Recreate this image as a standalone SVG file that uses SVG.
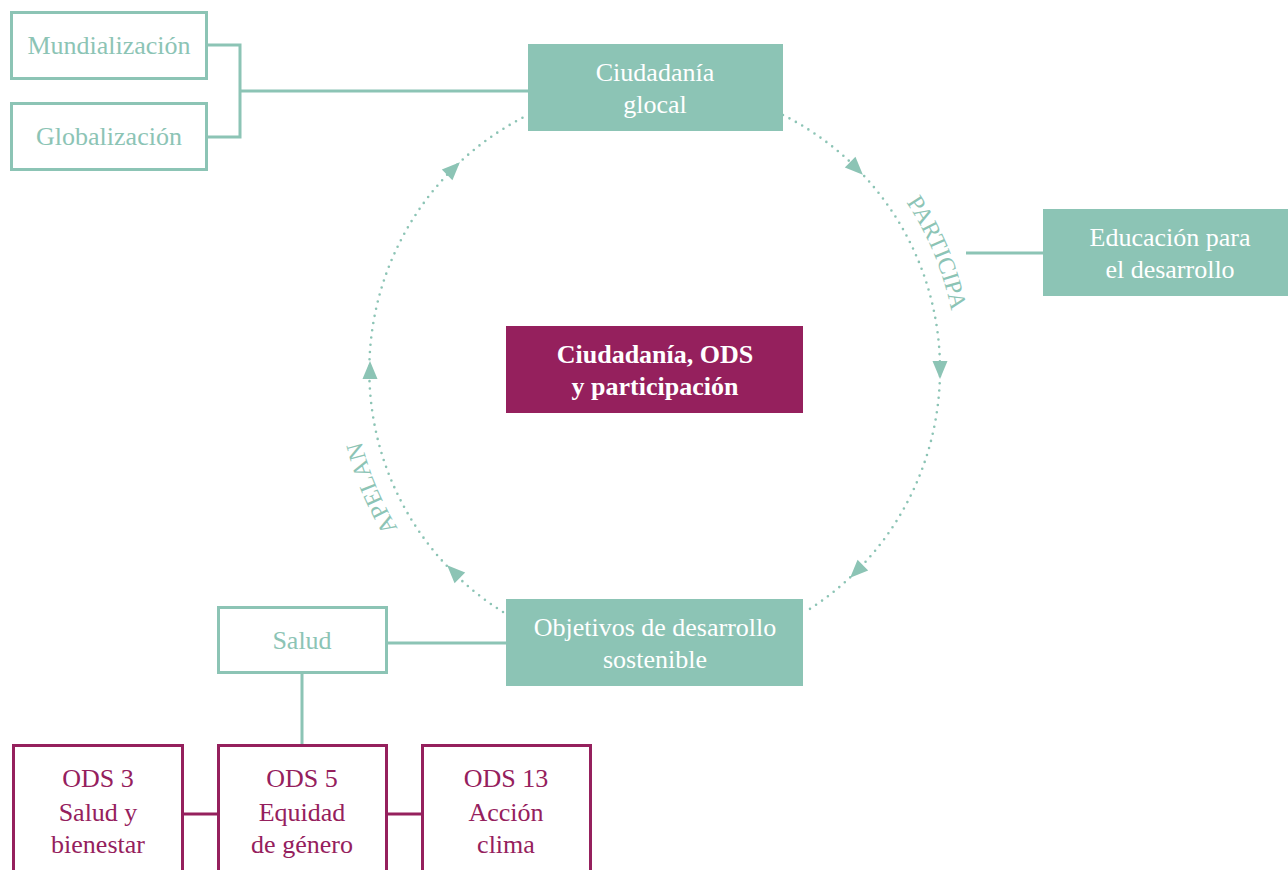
<svg xmlns="http://www.w3.org/2000/svg" xmlns:xlink="http://www.w3.org/1999/xlink" width="1288" height="870" viewBox="0 0 1288 870">
<style>
.t{font-family:"Liberation Serif",serif;font-size:26px;text-anchor:middle}
.w{fill:#ffffff}
.g{fill:#8cc4b5}
.p{fill:#95205d}
.b{font-weight:bold}
.fillT{fill:#8cc4b5}
.fillP{fill:#95205d}
.outT{fill:#ffffff;stroke:#8cc4b5;stroke-width:3}
.outP{fill:#ffffff;stroke:#95205d;stroke-width:3}
.lnT{stroke:#8cc4b5;stroke-width:3;fill:none}
.lnP{stroke:#95205d;stroke-width:3;fill:none}
.dot{stroke:#8cc4b5;stroke-width:2.6;fill:none;stroke-dasharray:0 7.3;stroke-linecap:round}
.arr{fill:#8cc4b5}
.lbl{font-family:"Liberation Serif",serif;font-size:24px;fill:#8cc4b5;text-anchor:middle}
</style>
<defs>
<path id="ring" d="M 957 370 A 302 302 0 1 1 353 370 A 302 302 0 1 1 957 370"/>
<polygon id="ah" points="9,0 -9,-7.5 -9,7.5"/>
</defs>
<g id="connectors">
<path class="lnT" d="M207 45 H240 V137 H207 M240 91 H528"/>
<path class="lnT" d="M966 253 H1043"/>
<path class="lnT" d="M387 643 H506 M302 673 V745"/>
<path class="lnP" d="M183 814 H218 M387 814 H422"/>
<path class="dot" d="M 783 115 A 285 285 0 0 1 805 612"/>
<path class="dot" d="M 503 612 A 285 285 0 0 1 528 115"/>
<use href="#ah" class="arr" transform="translate(856.5,168.5) rotate(45)"/>
<use href="#ah" class="arr" transform="translate(940,370) rotate(90)"/>
<use href="#ah" class="arr" transform="translate(856.5,571.5) rotate(135)"/>
<use href="#ah" class="arr" transform="translate(453.5,571.5) rotate(225)"/>
<use href="#ah" class="arr" transform="translate(370,370) rotate(270)"/>
<use href="#ah" class="arr" transform="translate(453.5,168.5) rotate(315)"/>
<text class="lbl"><textPath href="#ring" startOffset="1778">PARTICIPA</textPath></text>
<text class="lbl"><textPath href="#ring" startOffset="829">APELAN</textPath></text>
</g>
<g id="mundializacion">
<rect class="outT" x="11.5" y="12.5" width="195" height="66"/>
<text class="t g" x="109" y="54">Mundialización</text>
</g>
<g id="globalizacion">
<rect class="outT" x="11.5" y="103.5" width="195" height="66"/>
<text class="t g" x="109" y="145">Globalización</text>
</g>
<g id="ciudadania-glocal">
<rect class="fillT" x="528" y="44" width="255" height="87"/>
<text class="t w" x="655" y="81">Ciudadanía</text>
<text class="t w" x="655" y="113">glocal</text>
</g>
<g id="educacion">
<rect class="fillT" x="1043" y="209" width="245" height="87"/>
<text class="t w" x="1170" y="246">Educación para</text>
<text class="t w" x="1170" y="278">el desarrollo</text>
</g>
<g id="centro">
<rect class="fillP" x="506" y="326" width="297" height="87"/>
<text class="t w b" x="655" y="363">Ciudadanía, ODS</text>
<text class="t w b" x="655" y="395">y participación</text>
</g>
<g id="objetivos">
<rect class="fillT" x="506" y="599" width="297" height="87"/>
<text class="t w" x="655" y="636">Objetivos de desarrollo</text>
<text class="t w" x="655" y="668">sostenible</text>
</g>
<g id="salud">
<rect class="outT" x="218.5" y="607.5" width="168" height="65"/>
<text class="t g" x="302" y="649">Salud</text>
</g>
<g id="ods3">
<rect class="outP" x="13.5" y="745.5" width="169" height="130"/>
<text class="t p" x="98" y="787">ODS 3</text>
<text class="t p" x="98" y="821">Salud y</text>
<text class="t p" x="98" y="853">bienestar</text>
</g>
<g id="ods5">
<rect class="outP" x="218.5" y="745.5" width="168" height="130"/>
<text class="t p" x="302" y="787">ODS 5</text>
<text class="t p" x="302" y="821">Equidad</text>
<text class="t p" x="302" y="853">de género</text>
</g>
<g id="ods13">
<rect class="outP" x="422.5" y="745.5" width="168" height="130"/>
<text class="t p" x="506" y="787">ODS 13</text>
<text class="t p" x="506" y="821">Acción</text>
<text class="t p" x="506" y="853">clima</text>
</g>
</svg>
